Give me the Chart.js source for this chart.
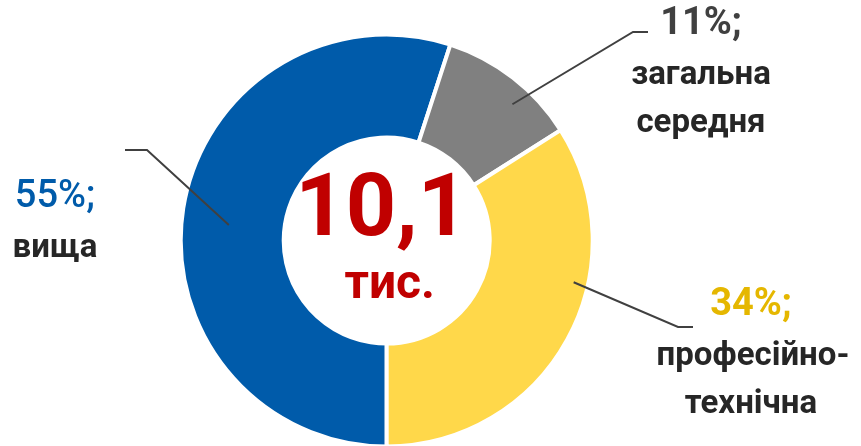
<!DOCTYPE html>
<html>
<head>
<meta charset="utf-8">
<script src="https://cdn.jsdelivr.net/npm/chart.js@4/dist/chart.umd.min.js"></script>
<style>
  html, body { margin: 0; padding: 0; background: #fff; }
  #wrap { width: 861px; height: 446px; }
</style>
</head>
<body>
<div id="wrap"><canvas id="chart"></canvas></div>
<script>
const categories = ['вища', 'загальна середня', 'професійно-технічна']
const shares = [55, 11, 34]
const colors = ['#005BAA', '#808080', '#FFD84A']
const pctColors = ['#005BAA', '#404040', '#E5B700']
const totalLabel = ['10,1', 'тис.']

// label layout: anchor angle (deg from top, clockwise) and radius fraction on the arc,
// elbow point, end of horizontal tick, text centre and lines
const labelLayout = [
    { angle: 275.6, r: 0.77, elbow: [147, 150], tick: [125, 150], x: 55, y: 197, lines: ['вища'], pctWeight: '500' },
    { angle: 42.7, r: 0.9, elbow: [633, 32], tick: [648, 32], x: 701, y: 24, lines: ['загальна', 'середня'], pctWeight: 'bold' },
    { angle: 102.6, r: 0.93, elbow: [678, 327], tick: [693, 327], x: 751, y: 305, lines: ['професійно-', 'технічна'], pctWeight: 'bold' }
]

const FONT = 'Roboto, "Noto Sans", sans-serif'

const calloutPlugin = {
    id: 'callouts',
    afterDraw(chart) {
        const ctx = chart.ctx
        const arcs = chart.getDatasetMeta(0).data
        const cx = arcs[0].x
        const cy = arcs[0].y
        const outer = arcs[0].outerRadius

        ctx.save()
        ctx.textAlign = 'center'
        ctx.textBaseline = 'middle'

        // centre total
        ctx.fillStyle = '#C00000'
        ctx.font = 'bold 88px ' + FONT
        ctx.fillText(totalLabel[0], cx - 5, cy - 28)
        ctx.font = 'bold 48px ' + FONT
        ctx.fillText(totalLabel[1], cx + 3, cy + 45)

        labelLayout.forEach((l, i) => {
            const a = (l.angle - 90) * Math.PI / 180
            const ax = cx + Math.cos(a) * outer * l.r
            const ay = cy + Math.sin(a) * outer * l.r
            ctx.strokeStyle = '#404040'
            ctx.lineWidth = 2
            ctx.beginPath()
            ctx.moveTo(ax, ay)
            ctx.lineTo(l.elbow[0], l.elbow[1])
            ctx.lineTo(l.tick[0], l.tick[1])
            ctx.stroke()

            ctx.fillStyle = pctColors[i]
            ctx.font = l.pctWeight + ' 38px ' + FONT
            ctx.fillText(shares[i] + '%;', l.x, l.y)
            ctx.fillStyle = '#262626'
            ctx.font = 'bold 33px ' + FONT
            l.lines.forEach((t, j) => {
                ctx.fillText(t, l.x + (i === 2 && j === 0 ? 2 : 0), l.y + 52 + j * 48)
            })
        })
        ctx.restore()
    }
}

new Chart(document.getElementById('chart').getContext('2d'), {
    type: 'doughnut',
    data: {
        labels: categories,
        datasets: [{
            data: shares,
            backgroundColor: colors,
            borderColor: '#ffffff',
            borderWidth: 4
        }]
    },
    options: {
        responsive: true,
        maintainAspectRatio: false,
        animation: false,
        rotation: 180,
        cutout: '50%',
        radius: 206,
        layout: { padding: { left: 0, right: 87.6, top: 35, bottom: 0 } },
        plugins: {
            legend: { display: false },
            tooltip: { enabled: false }
        }
    },
    plugins: [calloutPlugin]
})
</script>
</body>
</html>
